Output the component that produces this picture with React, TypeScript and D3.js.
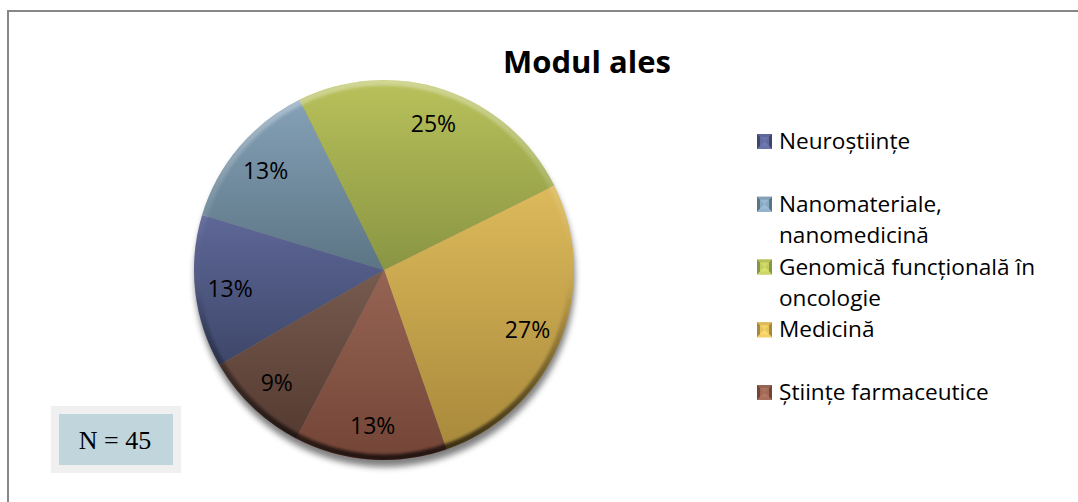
import React from "react";
import * as d3 from "d3";

const title = "Modul ales";
const sampleLabel = "N = 45";
const categories = [
  "Neuroștiințe",
  "Nanomateriale, nanomedicină",
  "Genomică funcțională în oncologie",
  "Medicină",
  "Științe farmaceutice",
  "Altele",
];
const values = [13, 13, 25, 27, 13, 9];
const legendLines = [
  ["Neuroștiințe"],
  ["Nanomateriale,", "nanomedicină"],
  ["Genomică funcțională în", "oncologie"],
  ["Medicină"],
  ["Științe farmaceutice"],
];
const topColors = ["#5e6797", "#85a1b7", "#b8c15a", "#ddba5b", "#966453", "#775b4f"];
const bottomColors = ["#3e4769", "#5c7585", "#899543", "#a8893b", "#734537", "#553a31"];

export default function App() {
  const W = 1078;
  const H = 502;
  const cx = 384;
  const cy = 270;
  const r = 190;

  const pie = d3
    .pie<number>()
    .sort(null)
    .value((d) => d)
    .startAngle((4 * Math.PI) / 3)
    .endAngle((4 * Math.PI) / 3 + 2 * Math.PI);
  const arcs = pie(values);
  const arc = d3.arc<d3.PieArcDatum<number>>().innerRadius(0).outerRadius(r);
  const labelArc = d3.arc<d3.PieArcDatum<number>>().innerRadius(155).outerRadius(155);

  const legendY = d3.scaleLinear().domain([0, 4]).range([149, 400]);
  const lineH = 31.5;
  const font = "'Open Sans', 'DejaVu Sans', sans-serif";

  return (
    <svg
      width={W}
      height={H}
      style={{ position: "absolute", left: 0, top: 0, background: "#fff" }}
    >
      <defs>
        {arcs.map((a, i) => (
          <linearGradient key={i} id={`g${i}`} x1="0" y1="0" x2="0" y2="1">
            <stop offset="0" stopColor={topColors[i]} />
            <stop offset="1" stopColor={bottomColors[i]} />
          </linearGradient>
        ))}
        <linearGradient id="rim" x1="0" y1="0" x2="0" y2="1">
          <stop offset="0" stopColor="#ffffff" stopOpacity="0.35" />
          <stop offset="0.45" stopColor="#ffffff" stopOpacity="0" />
          <stop offset="0.6" stopColor="#000000" stopOpacity="0.1" />
          <stop offset="1" stopColor="#000000" stopOpacity="0.7" />
        </linearGradient>
        <filter id="shadow" x="-20%" y="-20%" width="140%" height="140%">
          <feGaussianBlur stdDeviation="3" />
        </filter>
        <filter id="blur1" x="-10%" y="-10%" width="120%" height="120%">
          <feGaussianBlur stdDeviation="1.5" />
        </filter>
        <clipPath id="pieClip">
          <circle cx={cx} cy={cy} r={r} />
        </clipPath>
      </defs>

      <rect x={8} y={11} width={1100} height={520} fill="#fff" stroke="#878787" strokeWidth={2} />

      <text
        x={587}
        y={73}
        textAnchor="middle"
        fontFamily={font}
        fontWeight="bold"
        fontSize={31}
        fill="#000"
      >
        {title}
      </text>

      <ellipse cx={cx + 1} cy={cy + 7} rx={r} ry={r} fill="#000" opacity={0.5} filter="url(#shadow)" />

      <g transform={`translate(${cx},${cy})`}>
        {arcs.map((a, i) => (
          <path key={i} d={arc(a) || ""} fill={`url(#g${i})`} />
        ))}
      </g>

      <g clipPath="url(#pieClip)">
        <circle
          cx={cx}
          cy={cy}
          r={r - 2}
          fill="none"
          stroke="url(#rim)"
          strokeWidth={7}
          filter="url(#blur1)"
        />
      </g>

      <g transform={`translate(${cx},${cy})`}>
        {arcs.map((a, i) => {
          const [lx, ly] = labelArc.centroid(a);
          return (
            <text
              key={i}
              x={lx}
              y={ly}
              textAnchor="middle"
              dominantBaseline="central"
              fontFamily={font}
              fontSize={23}
              fill="#000"
            >
              {`${a.data}%`}
            </text>
          );
        })}
      </g>

      {legendLines.map((lines, i) => {
        const by = legendY(i);
        const mx = 757;
        const my = by - 15;
        const s = 15;
        return (
          <g key={i}>
            <rect x={mx} y={my} width={s} height={s} fill={topColors[i]} />
            <polygon points={`${mx},${my} ${mx + s},${my} ${mx + s / 2},${my + s / 2}`} fill={topColors[i]} />
            <polygon points={`${mx},${my} ${mx},${my + s} ${mx + s / 2},${my + s / 2}`} fill={bottomColors[i]} />
            <polygon points={`${mx + s},${my} ${mx + s},${my + s} ${mx + s / 2},${my + s / 2}`} fill={bottomColors[i]} />
            <polygon points={`${mx},${my + s} ${mx + s},${my + s} ${mx + s / 2},${my + s / 2}`} fill={d3.color(topColors[i])!.brighter(0.3).toString()} />
            <rect x={mx + 3} y={my + 3} width={s - 6} height={s - 6} fill={d3.color(topColors[i])!.brighter(0.5).toString()} opacity={0.7} />
            {lines.map((t, j) => (
              <text
                key={j}
                x={779}
                y={by + j * lineH}
                fontFamily={font}
                fontSize={22.6}
                fill="#000"
              >
                {t}
              </text>
            ))}
          </g>
        );
      })}

      <rect x={51} y={406} width={130} height={67} fill="#f0f0f0" />
      <rect x={59} y={414} width={114} height={51} fill="#c0d5dc" />
      <text
        x={115}
        y={449}
        textAnchor="middle"
        fontFamily="'Liberation Serif', 'DejaVu Serif', serif"
        fontSize={26}
        fill="#000"
      >
        {sampleLabel}
      </text>
    </svg>
  );
}
